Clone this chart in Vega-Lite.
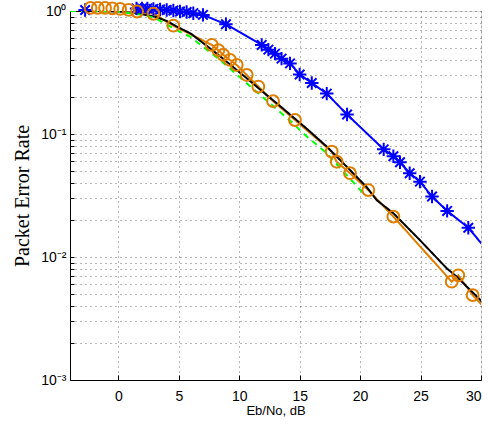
{
  "$schema": "https://vega.github.io/schema/vega-lite/v6.json",
  "width": 411,
  "height": 369,
  "autosize": {"type": "none"},
  "padding": {"left": 70, "top": 11, "right": 7, "bottom": 46},
  "background": "white",
  "data": {"values": [
    {"series": "Vinmax", "x": -2.75, "y": 1.02},
    {"series": "Vinmax", "x": 1.5, "y": 1.05},
    {"series": "Vinmax", "x": 1.95, "y": 1.05},
    {"series": "Vinmax", "x": 2.4, "y": 1.05},
    {"series": "Vinmax", "x": 2.9, "y": 1.04},
    {"series": "Vinmax", "x": 3.45, "y": 1.03},
    {"series": "Vinmax", "x": 4.0, "y": 1.02},
    {"series": "Vinmax", "x": 4.55, "y": 1.01},
    {"series": "Vinmax", "x": 5.1, "y": 0.99},
    {"series": "Vinmax", "x": 5.65, "y": 0.98},
    {"series": "Vinmax", "x": 6.2, "y": 0.96},
    {"series": "Vinmax", "x": 7.0, "y": 0.93},
    {"series": "Vinmax", "x": 8.9, "y": 0.78},
    {"series": "Vinmax", "x": 11.86, "y": 0.53},
    {"series": "Vinmax", "x": 12.41, "y": 0.485},
    {"series": "Vinmax", "x": 12.96, "y": 0.45},
    {"series": "Vinmax", "x": 13.5, "y": 0.41},
    {"series": "Vinmax", "x": 14.2, "y": 0.375},
    {"series": "Vinmax", "x": 15.0, "y": 0.305},
    {"series": "Vinmax", "x": 16.0, "y": 0.26},
    {"series": "Vinmax", "x": 17.24, "y": 0.213},
    {"series": "Vinmax", "x": 18.92, "y": 0.144},
    {"series": "Vinmax", "x": 21.95, "y": 0.075},
    {"series": "Vinmax", "x": 22.75, "y": 0.066},
    {"series": "Vinmax", "x": 23.3, "y": 0.059},
    {"series": "Vinmax", "x": 24.1, "y": 0.048},
    {"series": "Vinmax", "x": 24.95, "y": 0.041},
    {"series": "Vinmax", "x": 25.95, "y": 0.031},
    {"series": "Vinmax", "x": 27.2, "y": 0.0237},
    {"series": "Vinmax", "x": 28.95, "y": 0.0173},
    {"series": "Vinmax", "x": 31.0, "y": 0.0099},
    {"series": "Vinmax/2.5", "x": -2.3, "y": 1.06},
    {"series": "Vinmax/2.5", "x": -1.7, "y": 1.06},
    {"series": "Vinmax/2.5", "x": -1.1, "y": 1.06},
    {"series": "Vinmax/2.5", "x": -0.5, "y": 1.05},
    {"series": "Vinmax/2.5", "x": 0.15, "y": 1.04},
    {"series": "Vinmax/2.5", "x": 0.85, "y": 1.02},
    {"series": "Vinmax/2.5", "x": 1.55, "y": 0.99},
    {"series": "Vinmax/2.5", "x": 2.9, "y": 0.95},
    {"series": "Vinmax/2.5", "x": 4.55, "y": 0.76},
    {"series": "Vinmax/2.5", "x": 7.73, "y": 0.53},
    {"series": "Vinmax/2.5", "x": 8.27, "y": 0.48},
    {"series": "Vinmax/2.5", "x": 8.68, "y": 0.44},
    {"series": "Vinmax/2.5", "x": 9.24, "y": 0.4},
    {"series": "Vinmax/2.5", "x": 9.79, "y": 0.364},
    {"series": "Vinmax/2.5", "x": 10.62, "y": 0.302},
    {"series": "Vinmax/2.5", "x": 11.58, "y": 0.243},
    {"series": "Vinmax/2.5", "x": 12.8, "y": 0.185},
    {"series": "Vinmax/2.5", "x": 14.61, "y": 0.13},
    {"series": "Vinmax/2.5", "x": 17.65, "y": 0.072},
    {"series": "Vinmax/2.5", "x": 18.06, "y": 0.0595},
    {"series": "Vinmax/2.5", "x": 19.16, "y": 0.048},
    {"series": "Vinmax/2.5", "x": 20.68, "y": 0.035},
    {"series": "Vinmax/2.5", "x": 22.75, "y": 0.0213},
    {"series": "Vinmax/2.5", "x": 27.58, "y": 0.0063},
    {"series": "Vinmax/2.5", "x": 28.12, "y": 0.0071},
    {"series": "Vinmax/2.5", "x": 29.31, "y": 0.0049},
    {"series": "Vinmax/2.5", "x": 30.6, "y": 0.0036},
    {"series": "No PA", "x": -4, "y": 1.0},
    {"series": "No PA", "x": -2, "y": 1.0},
    {"series": "No PA", "x": 0, "y": 0.99},
    {"series": "No PA", "x": 1, "y": 0.97},
    {"series": "No PA", "x": 2, "y": 0.94},
    {"series": "No PA", "x": 3, "y": 0.9},
    {"series": "No PA", "x": 4, "y": 0.83},
    {"series": "No PA", "x": 4.8, "y": 0.75},
    {"series": "No PA", "x": 6, "y": 0.655},
    {"series": "No PA", "x": 7, "y": 0.55},
    {"series": "No PA", "x": 8.4, "y": 0.43},
    {"series": "No PA", "x": 9.5, "y": 0.35},
    {"series": "No PA", "x": 10.6, "y": 0.285},
    {"series": "No PA", "x": 12.27, "y": 0.207},
    {"series": "No PA", "x": 13.1, "y": 0.178},
    {"series": "No PA", "x": 15.7, "y": 0.108},
    {"series": "No PA", "x": 17.24, "y": 0.079},
    {"series": "No PA", "x": 19.16, "y": 0.051},
    {"series": "No PA", "x": 20.55, "y": 0.037},
    {"series": "No PA", "x": 21.37, "y": 0.029},
    {"series": "No PA", "x": 22.75, "y": 0.0227},
    {"series": "No PA", "x": 24.95, "y": 0.0137},
    {"series": "No PA", "x": 27.16, "y": 0.0081},
    {"series": "No PA", "x": 28.0, "y": 0.0069},
    {"series": "No PA", "x": 29.92, "y": 0.0045},
    {"series": "No PA", "x": 30.5, "y": 0.0039},
    {"series": "vinmax/20", "x": -4, "y": 1.0},
    {"series": "vinmax/20", "x": 0, "y": 0.99},
    {"series": "vinmax/20", "x": 2, "y": 0.93},
    {"series": "vinmax/20", "x": 3, "y": 0.88},
    {"series": "vinmax/20", "x": 4.83, "y": 0.7},
    {"series": "vinmax/20", "x": 5.93, "y": 0.618},
    {"series": "vinmax/20", "x": 7.03, "y": 0.51},
    {"series": "vinmax/20", "x": 8.41, "y": 0.4},
    {"series": "vinmax/20", "x": 10.62, "y": 0.258},
    {"series": "vinmax/20", "x": 14.47, "y": 0.122},
    {"series": "vinmax/20", "x": 15.3, "y": 0.101},
    {"series": "vinmax/20", "x": 17.24, "y": 0.0697},
    {"series": "vinmax/20", "x": 20.26, "y": 0.033}
  ]},
  "resolve": {"axis": {"x": "independent", "y": "independent"}},
  "layer": [
    {
      "mark": {"type": "line", "strokeWidth": 2, "clip": true},
      "encoding": {
        "x": {"field": "x", "type": "quantitative", "scale": {"domain": [-4, 30], "nice": false, "zero": false},
          "axis": {"values": [0, 5, 10, 15, 20, 25, 30], "domainColor": "#000", "grid": true, "gridDash": [1, 4], "gridColor": "#333", "gridOpacity": 0.7, "tickColor": "#000", "tickSize": -5, "labelPadding": 14, "labelFont": "Liberation Sans", "labelColor": "#000", "labelFontSize": 14, "title": "Eb/No, dB", "titleFont": "Liberation Sans", "titleColor": "#000", "titleFontSize": 13, "titleFontWeight": "normal", "titlePadding": 1}},
        "y": {"field": "y", "type": "quantitative", "scale": {"type": "log", "domain": [0.001, 1], "nice": false},
          "axis": {"values": [0.001, 0.002, 0.003, 0.004, 0.005, 0.006, 0.007, 0.008, 0.009, 0.01, 0.02, 0.03, 0.04, 0.05, 0.06, 0.07, 0.08, 0.09, 0.1, 0.2, 0.3, 0.4, 0.5, 0.6, 0.7, 0.8, 0.9, 1],
            "labelExpr": "datum.value > 0.99 ? '10⁰' : (datum.value > 0.099 && datum.value < 0.101) ? '10⁻¹' : (datum.value > 0.0099 && datum.value < 0.0101) ? '10⁻²' : (datum.value > 0.00099 && datum.value < 0.00101) ? '10⁻³' : ''",
            "domainColor": "#000", "grid": true, "gridDash": [1, 4], "gridColor": "#333", "gridOpacity": 0.7, "tickColor": "#000",
            "tickSize": -4, "labelPadding": 8, "labelFont": "Liberation Sans", "labelColor": "#000", "labelFontSize": 14,
            "title": "Packet Error Rate", "titleFont": "Liberation Serif", "titleColor": "#000", "titleFontSize": 20, "titleFontWeight": "normal", "titlePadding": 8}},
        "color": {"field": "series", "type": "nominal", "scale": {"domain": ["Vinmax", "Vinmax/2.5", "No PA", "vinmax/20"], "range": ["#0000FF", "#DE7D00", "#000000", "#00FF00"]}, "legend": null},
        "strokeDash": {"field": "series", "type": "nominal", "scale": {"domain": ["Vinmax", "Vinmax/2.5", "No PA", "vinmax/20"], "range": [[1, 0], [1, 0], [1, 0], [6, 5]]}, "legend": null}
      }
    },
    {
      "mark": {"type": "point", "filled": false, "strokeWidth": 2, "size": 180, "shape": "M0,-1V1M-1,0H1M-0.71,-0.71L0.71,0.71M-0.71,0.71L0.71,-0.71"},
      "encoding": {
        "x": {"field": "x", "type": "quantitative", "scale": {"domain": [-4, 30], "nice": false, "zero": false}, "axis": null},
        "y": {"field": "y", "type": "quantitative", "scale": {"type": "log", "domain": [0.001, 1], "nice": false}, "axis": null},
        "color": {"field": "series", "type": "nominal", "legend": null},
        "opacity": {"condition": {"test": "datum.series == 'Vinmax' && datum.x <= 30", "value": 1}, "value": 0}
      }
    },
    {
      "mark": {"type": "point", "filled": false, "strokeWidth": 2, "size": 140, "shape": "circle"},
      "encoding": {
        "x": {"field": "x", "type": "quantitative", "scale": {"domain": [-4, 30], "nice": false, "zero": false}, "axis": null},
        "y": {"field": "y", "type": "quantitative", "scale": {"type": "log", "domain": [0.001, 1], "nice": false}, "axis": null},
        "color": {"field": "series", "type": "nominal", "legend": null},
        "opacity": {"condition": {"test": "datum.series == 'Vinmax/2.5' && datum.x <= 30", "value": 1}, "value": 0}
      }
    },
    {
      "mark": {"type": "point", "filled": false, "strokeWidth": 2, "opacity": 0},
      "encoding": {
        "x": {"field": "x", "type": "quantitative", "scale": {"domain": [-4, 30], "nice": false, "zero": false}, "axis": null},
        "y": {"field": "y", "type": "quantitative", "scale": {"type": "log", "domain": [0.001, 1], "nice": false}, "axis": null},
        "stroke": {"field": "series", "type": "nominal",
          "scale": {"domain": ["Vinmax", "Vinmax/2.5", "No PA", "vinmax/20"], "range": ["#0000FF", "#DE7D00", "#000000", "#00FF00"]},
          "legend": {"title": null, "orient": "none", "legendX": 35, "legendY": 248, "fillColor": "white", "strokeColor": "#000", "padding": 5, "rowPadding": 4.5, "symbolSize": 196, "symbolOffset": 39, "symbolStrokeWidth": 2, "symbolOpacity": 1, "labelOffset": 75, "labelFont": "Liberation Sans", "labelColor": "#000", "labelFontSize": 15}},
        "shape": {"field": "series", "type": "nominal",
          "scale": {"domain": ["Vinmax", "Vinmax/2.5", "No PA", "vinmax/20"], "range": [
            "M-5.14,0H5.14M0,-1.07V1.07M-0.76,-0.76L0.76,0.76M-0.76,0.76L0.76,-0.76",
            "M-5.14,0H-1M1,0H5.14M1,0A1,1 0 1,1 -1,0A1,1 0 1,1 1,0Z",
            "M-5.14,0H5.14M24.4,0",
            "M-5.14,0H-4M-2.71,0H-1.57M-0.43,0H0.86M2,0H3.14M4.43,0H5.14"]},
          "legend": {"title": null, "orient": "none", "legendX": 35, "legendY": 248}}
      }
    }
  ]
}
